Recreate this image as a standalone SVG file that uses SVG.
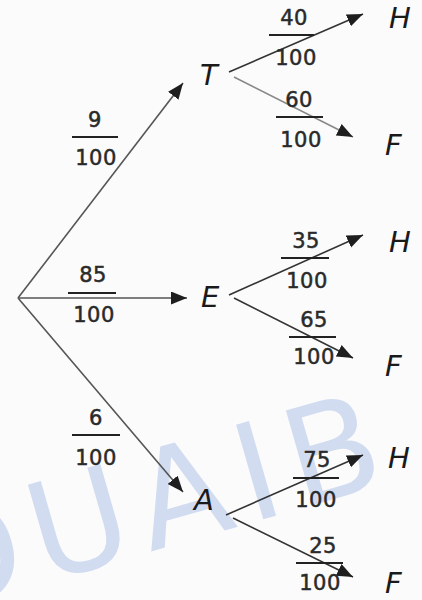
<svg xmlns="http://www.w3.org/2000/svg" width="422" height="600" viewBox="0 0 422 600">
<defs>
<marker id="ah" markerUnits="userSpaceOnUse" markerWidth="18" markerHeight="14" refX="16" refY="6.5" orient="auto">
<path d="M0,0 L16,6.5 L0,13 Z" fill="#1e1e1e"/>
</marker>
<style>
.num{font-family:"DejaVu Sans",Verdana,sans-serif;font-size:21px;fill:#2a2a2a;stroke:#2a2a2a;stroke-width:0.5;text-anchor:middle;letter-spacing:0.5px}
.lbl{font-family:"DejaVu Sans","Liberation Sans",sans-serif;font-style:italic;font-size:29px;fill:#1a1a1a}
.bar{stroke:#222;stroke-width:2}
.edge{stroke:#333;stroke-width:1.6;fill:none;marker-end:url(#ah)}
.root{stroke:#555}
.light{stroke:#888}
.wm{font-family:"DejaVu Sans",sans-serif;font-size:135px;fill:#d2dcf1}
</style>
</defs>
<rect width="422" height="600" fill="#fbfbfb"/>
<text class="wm" x="-70" y="615" letter-spacing="12" transform="rotate(-16 -70 615)">OUAIB</text>
<g id="connectors">
<line class="edge root" x1="18" y1="298" x2="183" y2="83"/>
<line class="edge root" x1="18" y1="298" x2="187" y2="298"/>
<line class="edge root" x1="18" y1="298" x2="183" y2="492"/>
<line class="edge" x1="229" y1="72" x2="363" y2="14"/>
<line class="edge light" x1="234" y1="77" x2="353" y2="137"/>
<line class="edge" x1="229" y1="295" x2="363" y2="235"/>
<line class="edge" x1="234" y1="298" x2="353" y2="358"/>
<line class="edge" x1="226" y1="515" x2="363" y2="455"/>
<line class="edge" x1="233" y1="518" x2="353" y2="577"/>
</g>
<g id="p-T"><text class="num" x="95" y="127">9</text><line class="bar" x1="72" y1="137" x2="118" y2="137"/><text class="num" x="96" y="165">100</text></g>
<g id="p-E"><text class="num" x="93" y="282">85</text><line class="bar" x1="68" y1="293" x2="116" y2="293"/><text class="num" x="94" y="322">100</text></g>
<g id="p-A"><text class="num" x="96" y="425">6</text><line class="bar" x1="72" y1="435" x2="120" y2="435"/><text class="num" x="96" y="465">100</text></g>
<g id="p-TH"><text class="num" x="294" y="25">40</text><line class="bar" x1="269" y1="35" x2="314" y2="35"/><text class="num" x="296" y="65">100</text></g>
<g id="p-TF"><text class="num" x="299" y="107">60</text><line class="bar" x1="276" y1="117" x2="323" y2="117"/><text class="num" x="301" y="147">100</text></g>
<g id="p-EH"><text class="num" x="306" y="248">35</text><line class="bar" x1="281" y1="258" x2="329" y2="258"/><text class="num" x="307" y="288">100</text></g>
<g id="p-EF"><text class="num" x="314" y="327">65</text><line class="bar" x1="289" y1="337" x2="336" y2="337"/><text class="num" x="314" y="364">100</text></g>
<g id="p-AH"><text class="num" x="317" y="467">75</text><line class="bar" x1="293" y1="478" x2="339" y2="478"/><text class="num" x="316" y="507">100</text></g>
<g id="p-AF"><text class="num" x="323" y="553">25</text><line class="bar" x1="296" y1="563" x2="343" y2="563"/><text class="num" x="320" y="590">100</text></g>
<g id="T"><text class="lbl" x="200" y="85">T</text></g>
<g id="E"><text class="lbl" x="201" y="307">E</text></g>
<g id="A"><text class="lbl" x="194" y="510">A</text></g>
<g id="H1"><text class="lbl" x="389" y="28">H</text></g>
<g id="F1"><text class="lbl" x="385" y="155">F</text></g>
<g id="H2"><text class="lbl" x="389" y="252">H</text></g>
<g id="F2"><text class="lbl" x="385" y="376">F</text></g>
<g id="H3"><text class="lbl" x="388" y="468">H</text></g>
<g id="F3"><text class="lbl" x="385" y="593">F</text></g>
</svg>
